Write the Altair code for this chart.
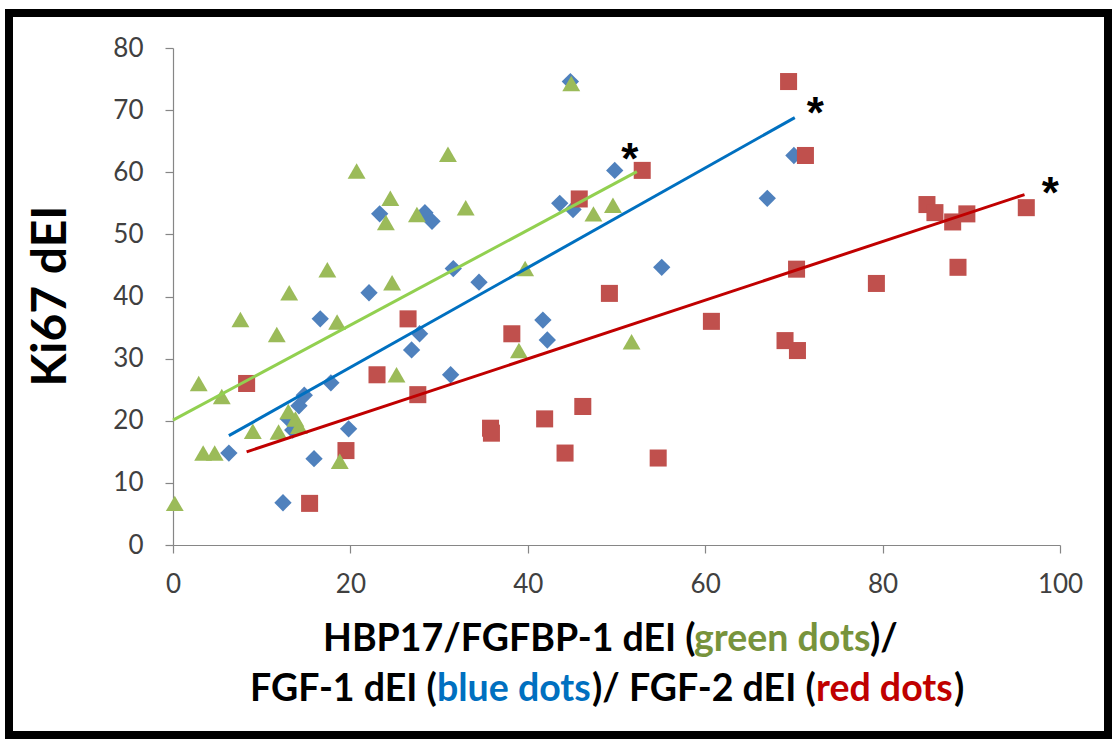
import altair as alt
import pandas as pd

# HBP17/FGFBP-1 dEI vs Ki67 dEI (green triangles)
green_x = [0.2, 2.9, 3.4, 4.7, 5.5, 7.6, 9.0, 11.7, 11.9, 13.1, 13.0, 13.8, 14.2, 17.4, 18.5,
           18.8, 20.7, 24.0, 24.5, 24.7, 25.2, 27.5, 31.0, 33.0, 39.0, 39.7, 44.9, 47.4, 49.6, 51.7]
green_y = [6.7, 26.0, 14.8, 14.8, 23.9, 36.3, 18.3, 33.9, 18.2, 40.6, 21.5, 20.3, 19.1, 44.3, 35.9,
           13.5, 60.2, 51.9, 55.8, 42.2, 27.4, 53.2, 62.9, 54.3, 31.3, 44.5, 74.3, 53.3, 54.7, 32.7]

# FGF-1 dEI vs Ki67 dEI (blue diamonds)
blue_x = [6.3, 12.4, 13.0, 13.5, 14.2, 14.8, 15.9, 16.6, 17.8, 19.8, 22.1, 23.3, 26.9, 27.8,
          28.4, 29.2, 31.3, 31.6, 34.5, 41.7, 42.2, 43.6, 45.1, 44.8, 49.8, 55.1, 67.0, 70.0]
blue_y = [14.8, 6.8, 20.3, 18.5, 22.4, 24.1, 13.9, 36.4, 26.1, 18.7, 40.6, 53.3, 31.4, 34.0,
          53.5, 52.1, 27.4, 44.5, 42.3, 36.2, 33.0, 55.0, 54.0, 74.6, 60.3, 44.7, 55.8, 62.7]

# FGF-2 dEI vs Ki67 dEI (red squares)
red_x = [8.3, 15.4, 19.5, 23.0, 26.5, 27.6, 35.8, 35.9, 38.2, 41.9, 44.2, 45.8, 46.2, 49.2, 52.9,
         54.7, 60.7, 69.0, 69.4, 70.4, 70.3, 71.3, 79.3, 85.0, 85.9, 87.9, 88.5, 89.5, 96.2]
red_y = [26.0, 6.7, 15.2, 27.4, 36.4, 24.2, 18.8, 18.0, 34.0, 20.3, 14.8, 55.7, 22.3, 40.5, 60.3,
         14.0, 36.0, 32.9, 74.6, 31.3, 44.4, 62.7, 42.1, 54.8, 53.5, 52.0, 44.7, 53.3, 54.3]

# Linear trend lines (start and end of each fitted segment)
trend_name = ["green", "blue", "red"]
trend_x0 = [0.0, 6.3, 8.3]
trend_y0 = [20.1, 17.6, 15.0]
trend_x1 = [52.3, 70.1, 96.0]
trend_y1 = [60.1, 68.8, 56.4]

# Significance markers next to the trend line ends
star_x = [51.5, 72.4, 98.9]
star_y = [63.9, 71.3, 58.5]

x_ticks = [0, 20, 40, 60, 80, 100]
y_ticks = [0, 10, 20, 30, 40, 50, 60, 70, 80]

MARKER = {"green": "#9BBB59", "blue": "#4F81BD", "red": "#C0504D"}
LINE = {"green": "#92D050", "blue": "#0070C0", "red": "#C00000"}
TEXT = {"black": "#000000", "green": "#77933C", "blue": "#0070C0", "red": "#C00000"}

W, H = 887, 497
xs = alt.Scale(domain=[0, 100], nice=False)
ys = alt.Scale(domain=[0, 80], nice=False)
FONT = "Lato"
X_AXIS = alt.Axis(values=x_ticks, title=None, grid=False, labelFlush=False)
Y_AXIS = alt.Axis(values=y_ticks, title=None, grid=False, labelFlush=False)


def series_layer(xv, yv, shape, color, size):
    df = pd.DataFrame({"x": xv, "y": yv})
    return alt.Chart(df).mark_point(
        shape=shape, filled=True, color=color, size=size, opacity=1, strokeWidth=0
    ).encode(
        x=alt.X("x:Q", scale=xs, axis=X_AXIS),
        y=alt.Y("y:Q", scale=ys, axis=Y_AXIS),
    )


blue_pts = series_layer(blue_x, blue_y, "diamond", MARKER["blue"], 300)
red_pts = series_layer(red_x, red_y, "square", MARKER["red"], 290)
green_pts = series_layer(green_x, green_y, "triangle-up", MARKER["green"], 320)

trend_df = pd.DataFrame({"name": trend_name, "x0": trend_x0, "y0": trend_y0,
                         "x1": trend_x1, "y1": trend_y1})
trends = alt.Chart(trend_df).mark_rule(strokeWidth=3).encode(
    x=alt.X("x0:Q", scale=xs, axis=X_AXIS),
    x2="x1:Q",
    y=alt.Y("y0:Q", scale=ys, axis=Y_AXIS),
    y2="y1:Q",
    color=alt.Color("name:N", scale=alt.Scale(domain=list(LINE.keys()), range=list(LINE.values())),
                    legend=None),
)

stars = alt.Chart(pd.DataFrame({"x": star_x, "y": star_y})).mark_text(
    text="*", font="Liberation Sans", fontWeight="bold", fontSize=44, color="black",
    baseline="alphabetic", dy=26,
).encode(x=alt.X("x:Q", scale=xs, axis=X_AXIS), y=alt.Y("y:Q", scale=ys, axis=Y_AXIS))

one = alt.Data(values=[{"k": 0}])


def label(text, px, py, color="#000000", size=37.5, align="left", angle=0):
    mk = dict(text=text, font=FONT, fontWeight="bold", fontSize=size, color=color,
              align=align, baseline="middle")
    if angle:
        mk["angle"] = angle
    return alt.Chart(one).mark_text(**mk).encode(x=alt.value(px), y=alt.value(py))


OX, OY = 173, 48  # plot origin on the page
title_parts = [
    ("HBP17/FGFBP-1 dEI (", 323, 640, "black"),
    ("green dots", 694, 640, "green"),
    (")/", 870, 640, "black"),
    ("FGF-1 dEI (", 250, 690, "black"),
    ("blue dots", 437, 690, "blue"),
    (")/ FGF-2 dEI (", 592, 690, "black"),
    ("red dots", 816, 690, "red"),
    (")", 954, 690, "black"),
]
title_layers = [label(t, x - OX, y - OY, TEXT[c]) for t, x, y, c in title_parts]
y_title = label("Ki67 dEI", 52 - OX, 296 - OY, size=48, align="center", angle=270)

frame = alt.Chart(one).mark_rect(filled=False, stroke="black", strokeWidth=8, clip=False).encode(
    x=alt.value(9 - OX), x2=alt.value(1108 - OX), y=alt.value(13 - OY), y2=alt.value(735 - OY)
)

chart = alt.layer(
    blue_pts, red_pts, green_pts, trends, stars, y_title, *title_layers, frame
).properties(
    width=W, height=H,
    autosize=alt.AutoSizeParams(type="none"),
    padding={"left": OX, "top": OY, "right": 1116 - OX - W, "bottom": 742 - OY - H},
    background="white",
).configure_view(
    stroke=None
).configure_axis(
    domainColor="#868686", tickColor="#868686", domainWidth=1.2, tickWidth=1.2,
    labelFont=FONT, labelFontSize=26, labelColor="#404040",
).configure_axisX(
    tickSize=8, labelPadding=18,
).configure_axisY(
    tickSize=8, labelPadding=22,
)

chart.save("out.html", embed_options={"renderer": "svg", "actions": False})
